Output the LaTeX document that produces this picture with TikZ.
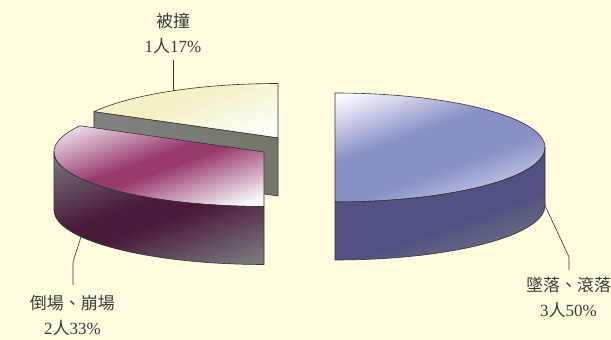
\documentclass[tikz,border=0pt]{standalone}
\usepackage{fontspec}
\usetikzlibrary{calc}
\setmainfont{Liberation Serif}
\newfontfamily\cjk{Noto Sans CJK TC}
\definecolor{bgc}{HTML}{FFFCDF}
\definecolor{edgec}{HTML}{333333}
\definecolor{txtc}{HTML}{3A3A3A}
\definecolor{bTw}{HTML}{FAFAFE}
\definecolor{bTm}{HTML}{8890C6}
\definecolor{bTl}{HTML}{DADCEE}
\definecolor{bW1}{HTML}{6A6C8A}
\definecolor{bW2}{HTML}{4F5282}
\definecolor{bW3}{HTML}{74747F}
\definecolor{mTw}{HTML}{F8F5F8}
\definecolor{mTm}{HTML}{983A6E}
\definecolor{mTl}{HTML}{F8F6F8}
\definecolor{mW1}{HTML}{747379}
\definecolor{mW2}{HTML}{4A1A3A}
\definecolor{mW3}{HTML}{7A797E}
\definecolor{yT1}{HTML}{F3F1C6}
\definecolor{yT2}{HTML}{FEFEF8}
\definecolor{gF1}{HTML}{808080}
\definecolor{gF2}{HTML}{76766A}
\pgfdeclareverticalshading{bluetop}{100bp}{color(0bp)=(bTl); color(22bp)=(bTl); color(42bp)=(bTm); color(58bp)=(bTm); color(80bp)=(bTw); color(100bp)=(bTw)}
\pgfdeclareverticalshading{magtop}{100bp}{color(0bp)=(mTl); color(22bp)=(mTl); color(46bp)=(mTm); color(52bp)=(mTm); color(78bp)=(mTw); color(100bp)=(mTw)}
\pgfdeclareverticalshading{bluewall}{100bp}{color(0bp)=(bW3); color(22bp)=(bW3); color(42bp)=(bW2); color(60bp)=(bW2); color(80bp)=(bW1); color(100bp)=(bW1)}
\pgfdeclareverticalshading{magwall}{100bp}{color(0bp)=(mW3); color(20bp)=(mW3); color(45bp)=(mW2); color(54bp)=(mW2); color(80bp)=(mW1); color(100bp)=(mW1)}
\pgfdeclareverticalshading{yeltop}{100bp}{color(0bp)=(yT2); color(25bp)=(yT2); color(55bp)=(yT1); color(100bp)=(yT1)}
\pgfdeclarehorizontalshading{grayface}{100bp}{color(0bp)=(gF1); color(30bp)=(gF1); color(70bp)=(gF2); color(100bp)=(gF2)}
\tikzset{
  face/.style={draw=edgec, line width=0.6pt, line join=round},
  leader/.style={draw=edgec, line width=0.6pt},
  lbl/.style={text=txtc, align=center, inner sep=0pt, anchor=north, font=\fontsize{17}{25}\selectfont}
}
\begin{document}
\begin{tikzpicture}[x=1pt,y=1pt]
\useasboundingbox (0,0) rectangle (611,340);
\fill[bgc] (0,0) rectangle (611,340);
% yellow slice (17%)
\coordinate (cy) at (278,202);
\shade[face, shading=yeltop, shading angle=20] (cy) -- (278,256.5) arc[start angle=90, end angle=151.2, x radius=210, y radius=54.5] -- cycle;
\shade[face, shading=grayface] (cy) -- ($(cy)+(151.2:210 and 54.5)$) -- ++(0,-58) -- ($(cy)+(0,-58)$) -- cycle;
% magenta slice (33%)
\coordinate (cm) at (264,188);
\shade[face, shading=magtop, shading angle=20] (cm) -- ($(cm)+(151.2:210 and 54.5)$) arc[start angle=151.2, end angle=270, x radius=210, y radius=54.5] -- cycle;
\shade[face, shading=magwall, shading angle=20] (54,188) arc[start angle=180, end angle=270, x radius=210, y radius=54.5] -- ++(0,-58) arc[start angle=270, end angle=180, x radius=210, y radius=54.5] -- cycle;
% blue slice (50%)
\coordinate (cb) at (335,192.5);
\shade[face, shading=bluetop, shading angle=20] (335,247) arc[start angle=90, end angle=-90, x radius=210, y radius=54.5] -- cycle;
\shade[face, shading=bluewall, shading angle=20] (545,192.5) arc[start angle=0, end angle=-90, x radius=210, y radius=54.5] -- ++(0,-58) arc[start angle=-90, end angle=0, x radius=210, y radius=54.5] -- cycle;
% labels
\node[lbl] (la) at (173,327.5) {{\cjk 被撞}\\1{\cjk 人}17\%};
\node[lbl] (lb) at (72.5,44.5) {{\cjk 倒場、崩場}\\2{\cjk 人}33\%};
\node[lbl] (lc) at (568.5,63.5) {{\cjk 墜落、滾落}\\3{\cjk 人}50\%};
% leader lines
\coordinate (pa) at (173,249.2);
\coordinate (ea) at (173,280);
\coordinate (pb) at (81,103.2);
\coordinate (kb) at (73,78);
\coordinate (eb) at (73,55);
\coordinate (pc) at (545,134.5);
\coordinate (kc) at (569,83);
\coordinate (ec) at (569,70);
\draw[leader] (pa) -- (ea);
\draw[leader] (pb) -- (kb) -- (eb);
\draw[leader] (pc) -- (kc) -- (ec);
\end{tikzpicture}
\end{document}
